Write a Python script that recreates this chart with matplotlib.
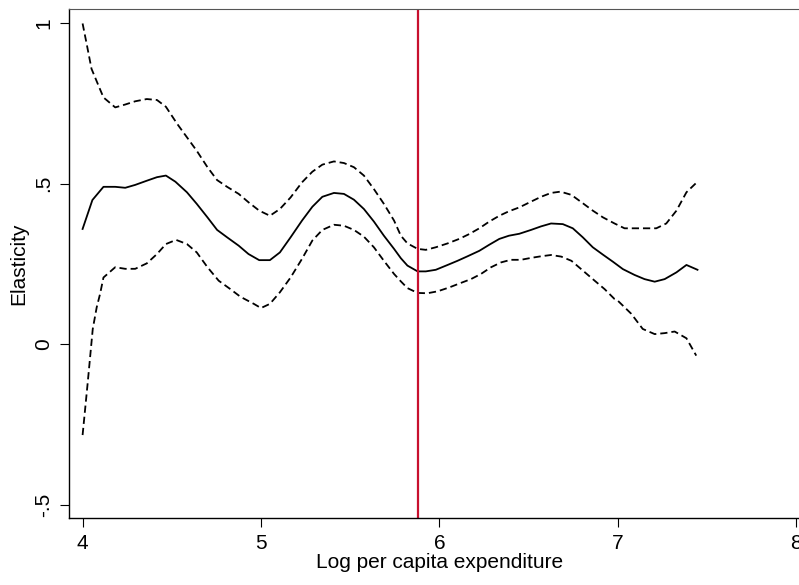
import matplotlib.pyplot as plt

plt.rcParams['font.family'] = ['Liberation Sans', 'DejaVu Sans']

# point estimate of the elasticity
est_x = [4.00, 4.055, 4.117, 4.183, 4.239, 4.295, 4.36, 4.417, 4.467, 4.52, 4.585,
         4.64, 4.70, 4.754, 4.81, 4.875, 4.93, 4.99, 5.05, 5.106, 5.166, 5.23,
         5.288, 5.344, 5.409, 5.465, 5.521, 5.577, 5.633, 5.689, 5.746, 5.784,
         5.821, 5.878, 5.924, 5.98, 6.046, 6.102, 6.158, 6.224, 6.28, 6.336,
         6.39, 6.448, 6.514, 6.57, 6.626, 6.692, 6.748, 6.804, 6.86, 6.917,
         6.973, 7.029, 7.094, 7.15, 7.207, 7.263, 7.329, 7.385, 7.447]
est_y = [0.359, 0.449, 0.490, 0.490, 0.487, 0.496, 0.509, 0.520, 0.525, 0.506, 0.473,
         0.437, 0.395, 0.356, 0.333, 0.307, 0.281, 0.262, 0.262, 0.286, 0.333, 0.385,
         0.428, 0.459, 0.471, 0.468, 0.450, 0.421, 0.382, 0.338, 0.297, 0.268,
         0.245, 0.227, 0.227, 0.232, 0.247, 0.260, 0.274, 0.291, 0.310, 0.328,
         0.338, 0.344, 0.356, 0.367, 0.376, 0.374, 0.361, 0.333, 0.302, 0.279,
         0.257, 0.234, 0.216, 0.203, 0.195, 0.203, 0.224, 0.247, 0.232]

# upper confidence band
hi_x = [4.00, 4.023, 4.05, 4.089, 4.117, 4.183, 4.239, 4.295, 4.36, 4.417, 4.467,
        4.53, 4.585, 4.64, 4.70, 4.754, 4.81, 4.875, 4.93, 4.99, 5.05, 5.106,
        5.166, 5.23, 5.288, 5.344, 5.409, 5.465, 5.521, 5.577, 5.633, 5.689,
        5.746, 5.784, 5.821, 5.878, 5.924, 5.98, 6.046, 6.111, 6.167, 6.224,
        6.28, 6.336, 6.39, 6.448, 6.514, 6.57, 6.626, 6.679, 6.74, 6.804, 6.86,
        6.917, 6.982, 7.038, 7.094, 7.15, 7.216, 7.272, 7.329, 7.385, 7.447]
hi_y = [0.998, 0.934, 0.857, 0.805, 0.768, 0.737, 0.746, 0.756, 0.763, 0.760, 0.739,
        0.686, 0.644, 0.602, 0.551, 0.511, 0.490, 0.468, 0.442, 0.416, 0.400, 0.421,
        0.457, 0.504, 0.537, 0.559, 0.569, 0.564, 0.551, 0.525, 0.483, 0.437,
        0.385, 0.338, 0.314, 0.297, 0.294, 0.302, 0.314, 0.328, 0.343, 0.361,
        0.382, 0.400, 0.414, 0.426, 0.444, 0.459, 0.471, 0.475, 0.465, 0.439, 0.416,
        0.395, 0.376, 0.361, 0.361, 0.361, 0.361, 0.376, 0.416, 0.473, 0.506]

# lower confidence band
lo_x = [4.00, 4.028, 4.057, 4.079, 4.098, 4.117, 4.183, 4.239, 4.295, 4.36, 4.417,
        4.467, 4.524, 4.585, 4.64, 4.70, 4.763, 4.828, 4.885, 4.96, 5.00, 5.05,
        5.106, 5.166, 5.23, 5.288, 5.344, 5.409, 5.465, 5.521, 5.577, 5.633,
        5.689, 5.746, 5.784, 5.821, 5.878, 5.933, 5.99, 6.055, 6.12, 6.177,
        6.233, 6.29, 6.346, 6.40, 6.457, 6.514, 6.57, 6.626, 6.683, 6.74, 6.795,
        6.86, 6.926, 6.982, 7.00, 7.076, 7.14, 7.207, 7.263, 7.319, 7.385, 7.44]
lo_y = [-0.282, -0.123, 0.048, 0.115, 0.157, 0.208, 0.240, 0.235, 0.235, 0.252, 0.281,
        0.312, 0.325, 0.312, 0.286, 0.240, 0.198, 0.172, 0.148, 0.126, 0.113, 0.126,
        0.162, 0.208, 0.266, 0.323, 0.356, 0.372, 0.369, 0.356, 0.335, 0.302,
        0.260, 0.219, 0.196, 0.175, 0.160, 0.159, 0.165, 0.177, 0.191, 0.203,
        0.219, 0.240, 0.255, 0.263, 0.263, 0.269, 0.274, 0.278, 0.273, 0.260, 0.234,
        0.203, 0.172, 0.141, 0.136, 0.095, 0.048, 0.032, 0.035, 0.040, 0.019, -0.035]

cutoff = 5.879
x_ticks = [4, 5, 6, 7, 8]
y_ticks = [-0.5, 0, 0.5, 1]
y_tick_labels = ['-.5', '0', '.5', '1']

fig = plt.figure(figsize=(7.99, 5.85), dpi=100)
ax = fig.add_axes([0.0864, 0.1145, 0.927, 0.8701])

ax.plot(est_x, est_y, color='black', linewidth=1.3)
ax.plot(hi_x, hi_y, color='black', linewidth=1.3, linestyle=(0, (4, 2.2)))
ax.plot(lo_x, lo_y, color='black', linewidth=1.3, linestyle=(0, (4, 2.2)))
ax.axvline(cutoff, color='#C8102E', linewidth=1.6)

ax.set_xlim(3.924, 8.076)
ax.set_ylim(-0.540, 1.043)

ax.set_xticks(x_ticks)
ax.set_yticks(y_ticks)
ax.set_yticklabels(y_tick_labels, rotation=90, va='center')
ax.tick_params(axis='both', direction='out', length=6.5, width=0.8, labelsize=15, pad=5)

ax.spines['top'].set_color('#555555')
ax.spines['right'].set_visible(False)
for s in ['left', 'bottom']:
    ax.spines[s].set_linewidth(1.0)

ax.set_xlabel('Log per capita expenditure', fontsize=15, labelpad=0)
ax.set_ylabel('Elasticity', fontsize=15, labelpad=4)

fig.savefig('out.png', dpi=100)
